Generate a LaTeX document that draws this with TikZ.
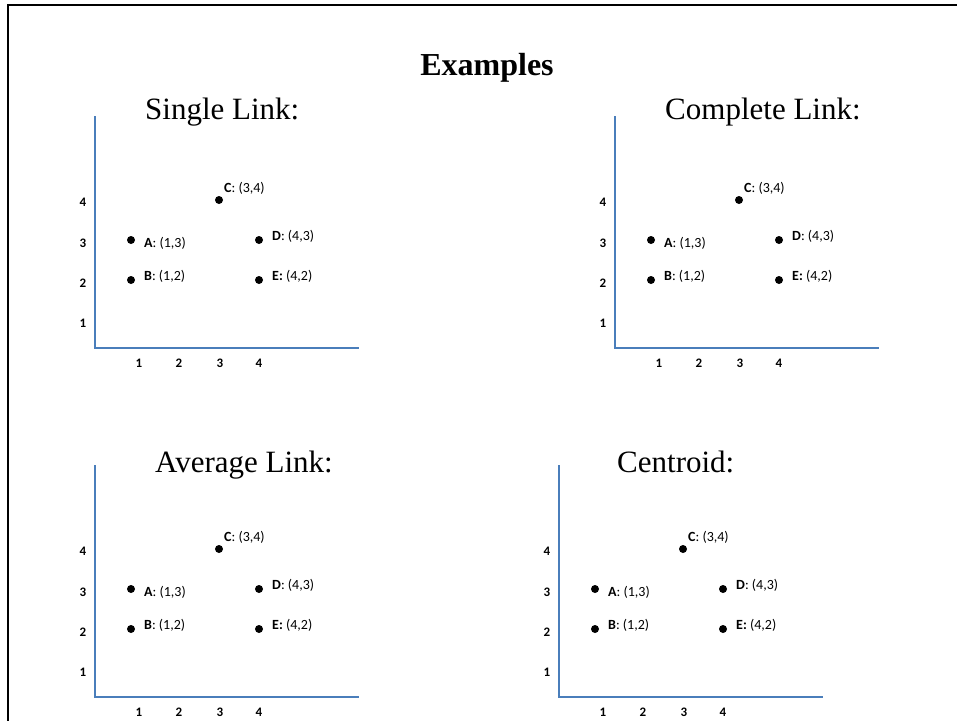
\documentclass[tikz,border=0pt]{standalone}
\usepackage{fontspec}
\setmainfont{Liberation Serif}
\newfontfamily\calibri{Carlito}
\definecolor{axisblue}{HTML}{4A7EBB}
\begin{document}
\begin{tikzpicture}[x=1pt,y=-1pt,
  frame/.style={line width=2pt,black},
  axisline/.style={line width=2pt,draw=axisblue,line join=miter},
  datapt/.style={circle,fill=black,inner sep=0pt,minimum size=8pt},
  ptlabel/.style={font=\calibri\fontsize{14}{16}\selectfont,anchor=base west,inner sep=0pt},
  ticklabel/.style={font=\calibri\bfseries\fontsize{13}{15}\selectfont,inner sep=0pt},
  charttitle/.style={font=\fontsize{31}{35}\selectfont,anchor=base west,inner sep=0pt},
  heading/.style={font=\bfseries\fontsize{32}{36}\selectfont,anchor=base,inner sep=0pt}]
\useasboundingbox (0,0) rectangle (957,721);
\coordinate (fTL) at (8,5);
\coordinate (fTR) at (957,5);
\coordinate (fBL) at (8,721);
\draw[frame] (fTR) -- (fTL) -- (fBL);
\node[heading] (hd) at (487,75) {Examples};
\foreach \p/\dx/\dy/\tx/\ty/\ttl in {s/0/0/145/119/Single Link:, c/520/0/665/119/Complete Link:, a/0/349/155/472/Average Link:, g/464/349/617/472/Centroid:} {
  \node[charttitle] (\p-title) at (\tx,\ty) {\ttl};
  \begin{scope}[shift={(\dx,\dy)}]
    \coordinate (\p-top) at (95,116);
    \coordinate (\p-o) at (95,348);
    \coordinate (\p-right) at (359,348);
    \draw[axisline] (\p-top) -- (\p-o) -- (\p-right);
    % tick labels
    \node[ticklabel] (\p-y4) at (83,202) {4};
    \node[ticklabel] (\p-y3) at (83,243) {3};
    \node[ticklabel] (\p-y2) at (83,283) {2};
    \node[ticklabel] (\p-y1) at (83,323) {1};
    \node[ticklabel] (\p-x1) at (139,363) {1};
    \node[ticklabel] (\p-x2) at (179,363) {2};
    \node[ticklabel] (\p-x3) at (220,363) {3};
    \node[ticklabel] (\p-x4) at (259,363) {4};
    % data points
    \node[datapt] (\p-A) at (131,240) {};
    \node[datapt] (\p-B) at (131,280) {};
    \node[datapt] (\p-C) at (219,200) {};
    \node[datapt] (\p-D) at (259,240) {};
    \node[datapt] (\p-E) at (259,280) {};
    \node[ptlabel] (\p-Alab) at (144,247) {\textbf{A}: (1,3)};
    \node[ptlabel] (\p-Blab) at (144,280) {\textbf{B}: (1,2)};
    \node[ptlabel] (\p-Clab) at (224,192) {\textbf{C}: (3,4)};
    \node[ptlabel] (\p-Dlab) at (272,240) {\textbf{D}: (4,3)};
    \node[ptlabel] (\p-Elab) at (272,280) {\textbf{E:} (4,2)};
  \end{scope}
}
\end{tikzpicture}
\end{document}
